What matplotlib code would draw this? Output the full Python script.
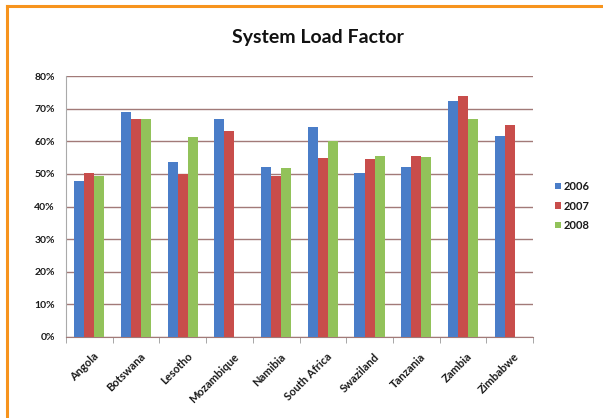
import matplotlib
matplotlib.use("Agg")
import matplotlib.pyplot as plt
from matplotlib.lines import Line2D
from matplotlib.ticker import FuncFormatter, FixedLocator
import numpy as np

plt.rcParams["font.family"] = ["Lato", "DejaVu Sans"]

countries = ["Angola", "Botswana", "Lesotho", "Mozambique", "Namibia",
             "South Africa", "Swaziland", "Tanzania", "Zambia", "Zimbabwe"]
years = ["2006", "2007", "2008"]
load_2006 = [47.8, 69.0, 53.5, 66.7, 52.1, 64.5, 50.3, 52.2, 72.2, 61.5]
load_2007 = [50.3, 66.9, 50.1, 63.0, 49.3, 55.0, 54.6, 55.5, 74.0, 65.1]
load_2008 = [49.3, 66.7, 61.3, np.nan, 51.8, 60.0, 55.5, 55.3, 66.8, np.nan]
series = [load_2006, load_2007, load_2008]
colors = ["#4a7dc8", "#c84d4b", "#92c25a"]

fig = plt.figure(figsize=(6.03, 4.18), dpi=100)
fig.patch.set_facecolor("white")

# orange frame along the top and left edges
fig.add_artist(Line2D([7 / 603, 1.0], [1 - 6 / 418, 1 - 6 / 418],
                      transform=fig.transFigure, color="#f7941d", lw=2.2))
fig.add_artist(Line2D([7 / 603, 7 / 603], [0.0, 1 - 6 / 418],
                      transform=fig.transFigure, color="#f7941d", lw=2.2))

ax = fig.add_axes([66 / 603, 1 - 337 / 418, (533 - 66) / 603, (337 - 76) / 418])

x = np.arange(len(countries))
bw = 0.215
for i, (vals, c, yr) in enumerate(zip(series, colors, years)):
    ax.bar(x + (i - 1) * bw, vals, width=bw, color=c, label=yr, zorder=3)

ax.set_xlim(-0.5, len(countries) - 0.5)
ax.set_ylim(0, 80)
ax.set_yticks(np.arange(0, 81, 10))
ax.yaxis.set_major_formatter(FuncFormatter(lambda v, p: f"{int(v)}%"))
ax.grid(axis="y", color="#a27a78", lw=1.0, zorder=0)
ax.set_axisbelow(True)

ax.set_xticks(x + 0.08)
ax.set_xticklabels(countries, rotation=45, ha="right", rotation_mode="anchor",
                   fontsize=8, fontweight="bold", color="#1a1a1a")
ax.tick_params(axis="x", length=0, pad=10)
ax.xaxis.set_minor_locator(FixedLocator(np.arange(-0.5, len(countries), 1.0)))
ax.tick_params(axis="x", which="minor", length=4, color="#999999")
ax.tick_params(axis="y", length=0, labelsize=7.5, pad=8, labelcolor="#1a1a1a")
for lab in ax.get_yticklabels():
    lab.set_fontweight("bold")

for s in ["top", "right"]:
    ax.spines[s].set_visible(False)
ax.spines["left"].set_color("#aaaaaa")
ax.spines["bottom"].set_color("#a27a78")

fig.text(318 / 603, 1 - 38 / 418, "System Load Factor", ha="center", va="center",
         fontsize=14, fontweight="bold", color="#111111")

leg = fig.legend(loc="center left", bbox_to_anchor=(555 / 603, 1 - 206 / 418),
                 frameon=False, fontsize=8, handlelength=0.5, handleheight=0.5,
                 handletextpad=0.25, labelspacing=0.75, borderpad=0,
                 borderaxespad=0)
for t in leg.get_texts():
    t.set_fontweight("bold")
    t.set_color("#1a1a1a")

fig.savefig("out.png", dpi=100)
